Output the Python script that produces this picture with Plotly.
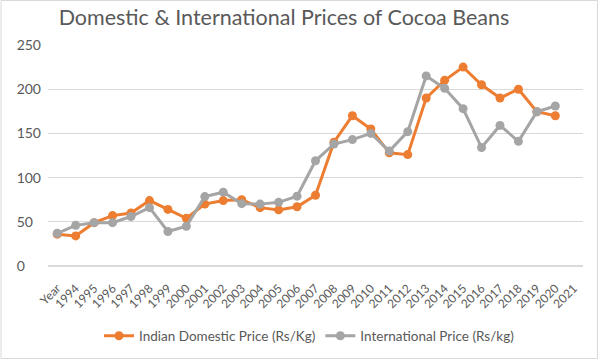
import plotly.graph_objects as go

categories = ["Year"] + [str(y) for y in range(1994, 2022)]
domestic = [36, 34, 49, 57, 60, 74, 64, 54, 70, 74, 75, 66, 63.5, 67,
            80, 140, 170, 155, 128, 126, 190, 210, 225, 205, 190, 200, 174.5, 170]
international = [37, 46, 49, 49, 56, 66, 39, 45, 78.5, 83.5, 70.5, 70, 72, 79,
                 119, 138, 143, 150, 130, 152, 215, 201, 178, 134, 159, 141, 174.5, 181]
y_ticks = [0, 50, 100, 150, 200, 250]
# Excel-style left aligned value labels: pad with figure spaces
y_labels = [str(v) + "\u2007" * (3 - len(str(v))) for v in y_ticks]

ORANGE = "#ED7D31"
GRAY = "#A5A5A5"
TXT = "#595959"
FONT = "Lato"

fig = go.Figure()
fig.add_trace(go.Scatter(x=categories[:len(domestic)], y=domestic, mode="lines+markers",
                         name="Indian Domestic Price (Rs/Kg)",
                         line=dict(color=ORANGE, width=3), marker=dict(color=ORANGE, size=9)))
fig.add_trace(go.Scatter(x=categories[:len(international)], y=international, mode="lines+markers",
                         name="International Price (Rs/kg)",
                         line=dict(color=GRAY, width=3), marker=dict(color=GRAY, size=9)))

L, R, T, B = 48, 17, 45, 94
W, H = 600, 360
pw, ph = W - L - R, H - T - B
y0px = T + ph

fig.update_layout(
    width=W, height=H,
    margin=dict(l=L, r=R, t=T, b=B, autoexpand=False),
    paper_bgcolor="white", plot_bgcolor="white",
    font=dict(family=FONT, color=TXT, size=12),
    title=dict(text="Domestic & International Prices of Cocoa Beans", x=284 / W, xanchor="center",
               y=1 - 17 / H, yanchor="middle", xref="container", yref="container",
               font=dict(size=21.5, color=TXT, family=FONT)),
    xaxis=dict(type="category", categoryorder="array", categoryarray=categories,
               range=[-0.5, len(categories) - 0.5], tickangle=-45, tickfont=dict(size=12, color=TXT),
               showgrid=False, showline=False, zeroline=False, ticks="", automargin=False,
               ticklabelstandoff=12),
    yaxis=dict(range=[0, 250], tickmode="array", tickvals=y_ticks, ticktext=y_labels,
               showgrid=True, gridcolor="#D9D9D9", gridwidth=1,
               zeroline=True, zerolinecolor="#D9D9D9", tickfont=dict(size=14, color=TXT), ticks="",
               showline=False, automargin=False, ticklabelstandoff=6),
    legend=dict(orientation="h", x=(309 - L) / pw, xanchor="center", y=(y0px - 336) / ph,
                yanchor="middle", font=dict(size=13.5, color=TXT), itemwidth=30),
    showlegend=True,
)

# Chart-area border like the original
fig.add_shape(type="rect", xref="paper", yref="paper",
              x0=(1 - L) / pw, x1=(597.5 - L) / pw,
              y0=(y0px - 358.5) / ph, y1=(y0px - 0.5) / ph,
              line=dict(color="#D9D9D9", width=1), fillcolor="rgba(0,0,0,0)", layer="below")

fig.write_html("out.html", post_script="document.body.style.margin='0';",
               config={"displayModeBar": False})
